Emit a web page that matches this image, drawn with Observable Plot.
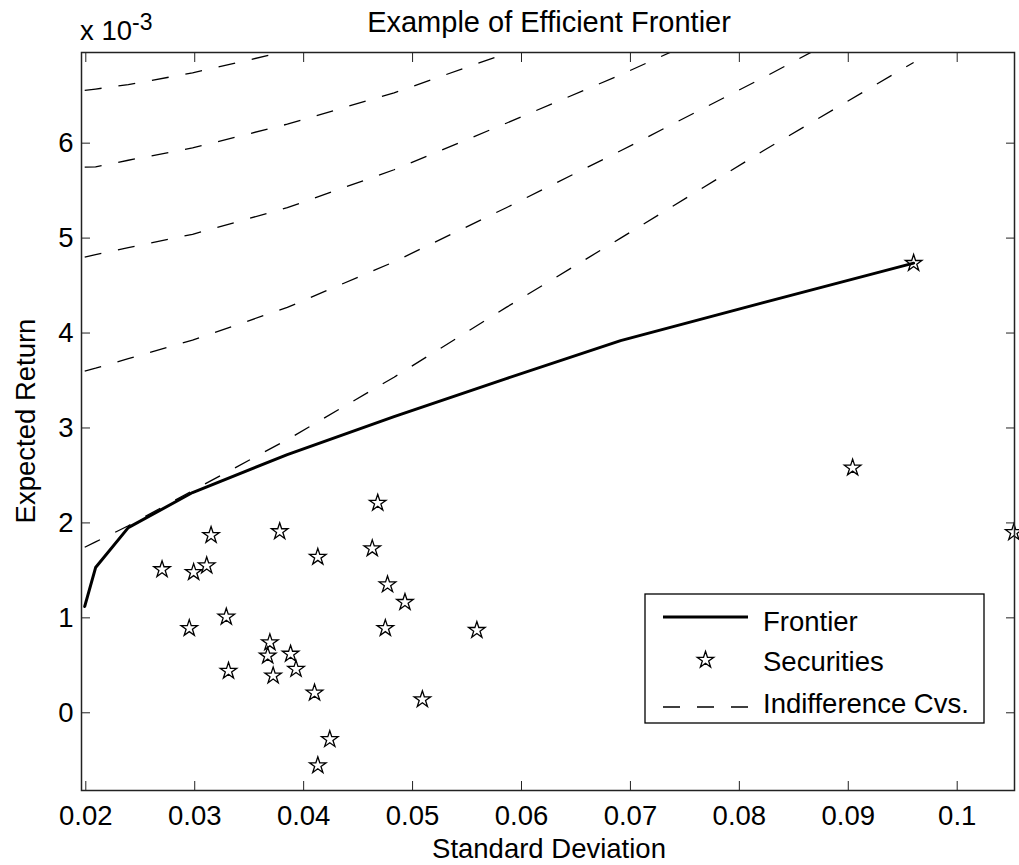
<!DOCTYPE html>
<html>
<head>
<meta charset="utf-8">
<script src="https://cdn.jsdelivr.net/npm/d3@7"></script>
<script src="https://cdn.jsdelivr.net/npm/@observablehq/plot@0.6"></script>
<style>
  html, body { margin: 0; padding: 0; background: #fff; }
  #chart { position: relative; width: 1019px; height: 865px; font-family: "Liberation Sans", Arial, sans-serif; }
  #chart > svg { display: block; }
  #overlay { position: absolute; left: 0; top: 0; pointer-events: none; }
</style>
</head>
<body>
<div id="chart"></div>
<script>
// ---------------- data (returns in units of 10^-3) ----------------
const frontierSigma  = [0.0199, 0.0209, 0.0239, 0.0298, 0.0385, 0.0483, 0.0586, 0.0691, 0.0822, 0.0960];
const frontierReturn = [1.12, 1.53, 1.95, 2.32, 2.72, 3.12, 3.52, 3.92, 4.32, 4.736];

const securitySigma  = [0.0960, 0.0904, 0.1052, 0.0468, 0.0315, 0.0378, 0.0463, 0.0413, 0.0270,
                        0.0299, 0.0311, 0.0477, 0.0493, 0.0329, 0.0295, 0.0475, 0.0559, 0.0369,
                        0.0367, 0.0388, 0.0393, 0.0372, 0.0331, 0.0410, 0.0509, 0.0424, 0.0413];
const securityReturn = [4.736, 2.58, 1.90, 2.21, 1.87, 1.91, 1.73, 1.64, 1.51,
                        1.48, 1.55, 1.35, 1.165, 1.01, 0.89, 0.89, 0.87, 0.74,
                        0.60, 0.62, 0.46, 0.39, 0.44, 0.21, 0.14, -0.28, -0.555];

// indifference curves, evaluated on the frontier's sigma grid (clipped at the top of the axes)
const curve1 = [1.744, 1.80, 1.97, 2.34, 2.877, 3.535, 4.27, 5.00, 5.92, 6.85];
const curve2 = [3.60, 3.63, 3.73, 3.925, 4.27, 4.75, 5.32, 5.92, 6.69, 7.53];
const curve3 = [4.80, 4.825, 4.90, 5.04, 5.32, 5.72, 6.21, 6.72, 7.40];
const curve4 = [5.747, 5.75, 5.82, 5.95, 6.20, 6.53, 6.945, 7.41];
const curve5 = [6.555, 6.57, 6.617, 6.74, 6.97, 7.26];

const xTicks = [0.02, 0.03, 0.04, 0.05, 0.06, 0.07, 0.08, 0.09, 0.1];
const yTicks = [0, 1, 2, 3, 4, 5, 6];

const titleText = "Example of Efficient Frontier";
const xLabel = "Standard Deviation";
const yLabel = "Expected Return";
const legendLabels = ["Frontier", "Securities", "Indifference Cvs."];

// ---------------- build tables ----------------
const frontier = frontierSigma.map((s, i) => ({sigma: s, ret: frontierReturn[i]}));
const securities = securitySigma.map((s, i) => ({sigma: s, ret: securityReturn[i]}));
const curves = [curve1, curve2, curve3, curve4, curve5]
  .flatMap((vals, k) => vals.map((r, i) => ({curve: k, sigma: frontierSigma[i], ret: r})));

const FONT = '"Liberation Sans", Arial, sans-serif';
const FS = 27.5;
const starR = 5.2;
const axisColor = "#222";

const chart = Plot.plot({
  width: 1019,
  height: 865,
  marginLeft: 81,
  marginRight: 5,
  marginTop: 52,
  marginBottom: 75,
  style: {fontFamily: FONT, fontSize: FS + "px", color: "#000", background: "#fff"},
  x: {domain: [0.019605, 0.105261], label: null},
  y: {domain: [-0.8185, 6.955], label: null},
  marks: [
    Plot.line(curves, {x: "sigma", y: "ret", z: "curve", stroke: "#000", strokeWidth: 1.3,
      strokeDasharray: "17,17", strokeLinecap: "butt", clip: true}),
    Plot.line(frontier, {x: "sigma", y: "ret", stroke: "#000", strokeWidth: 3, clip: true}),
    Plot.dot(securities, {x: "sigma", y: "ret", symbol: "star", r: starR, stroke: "#000",
      fill: "none", strokeWidth: 1.3}),
    Plot.frame({stroke: axisColor, strokeWidth: 1.5}),
    Plot.axisX(xTicks, {anchor: "bottom", tickSize: -9, tickPadding: 24, stroke: axisColor,
      tickFormat: d => String(d), fontSize: FS, label: null}),
    Plot.axisX(xTicks, {anchor: "top", tickSize: -9, stroke: axisColor, fill: "none", label: null}),
    Plot.axisY(yTicks, {anchor: "left", tickSize: -9, tickPadding: 17, stroke: axisColor,
      tickFormat: d => String(d), fontSize: FS, label: null}),
    Plot.axisY(yTicks, {anchor: "right", tickSize: -9, stroke: axisColor, fill: "none", label: null})
  ]
});

const root = document.getElementById("chart");
root.appendChild(chart);

// ---------------- overlay: title, axis labels, exponent, legend ----------------
const ov = d3.select(root).append("svg")
  .attr("id", "overlay")
  .attr("width", 1019).attr("height", 865)
  .attr("font-family", FONT).attr("font-size", FS);

ov.append("text").attr("x", 549).attr("y", 32).attr("text-anchor", "middle")
  .attr("font-size", 29).text(titleText);

const expo = ov.append("text").attr("x", 80).attr("y", 39.5);
expo.append("tspan").text("x 10");
expo.append("tspan").attr("dy", -10).attr("font-size", 23).text("-3");

ov.append("text").attr("x", 549).attr("y", 858).attr("text-anchor", "middle").text(xLabel);
ov.append("text").attr("transform", "translate(35,421) rotate(-90)").attr("text-anchor", "middle").text(yLabel);

// legend
const lg = ov.append("g");
lg.append("rect").attr("x", 645).attr("y", 594).attr("width", 339).attr("height", 129)
  .attr("fill", "#fff").attr("stroke", "#000").attr("stroke-width", 1.3);
lg.append("line").attr("x1", 663).attr("x2", 748).attr("y1", 617).attr("y2", 617)
  .attr("stroke", "#000").attr("stroke-width", 3);
lg.append("path").attr("transform", "translate(705.5,660)")
  .attr("d", d3.symbol(d3.symbolStar, Math.PI * starR * starR)())
  .attr("fill", "none").attr("stroke", "#000").attr("stroke-width", 1.3);
lg.append("line").attr("x1", 663).attr("x2", 748).attr("y1", 707).attr("y2", 707)
  .attr("stroke", "#000").attr("stroke-width", 1.3).attr("stroke-dasharray", "17,17");
[630.5, 671, 713].forEach((y, i) => {
  lg.append("text").attr("x", 763).attr("y", y).text(legendLabels[i]);
});
</script>
</body>
</html>
